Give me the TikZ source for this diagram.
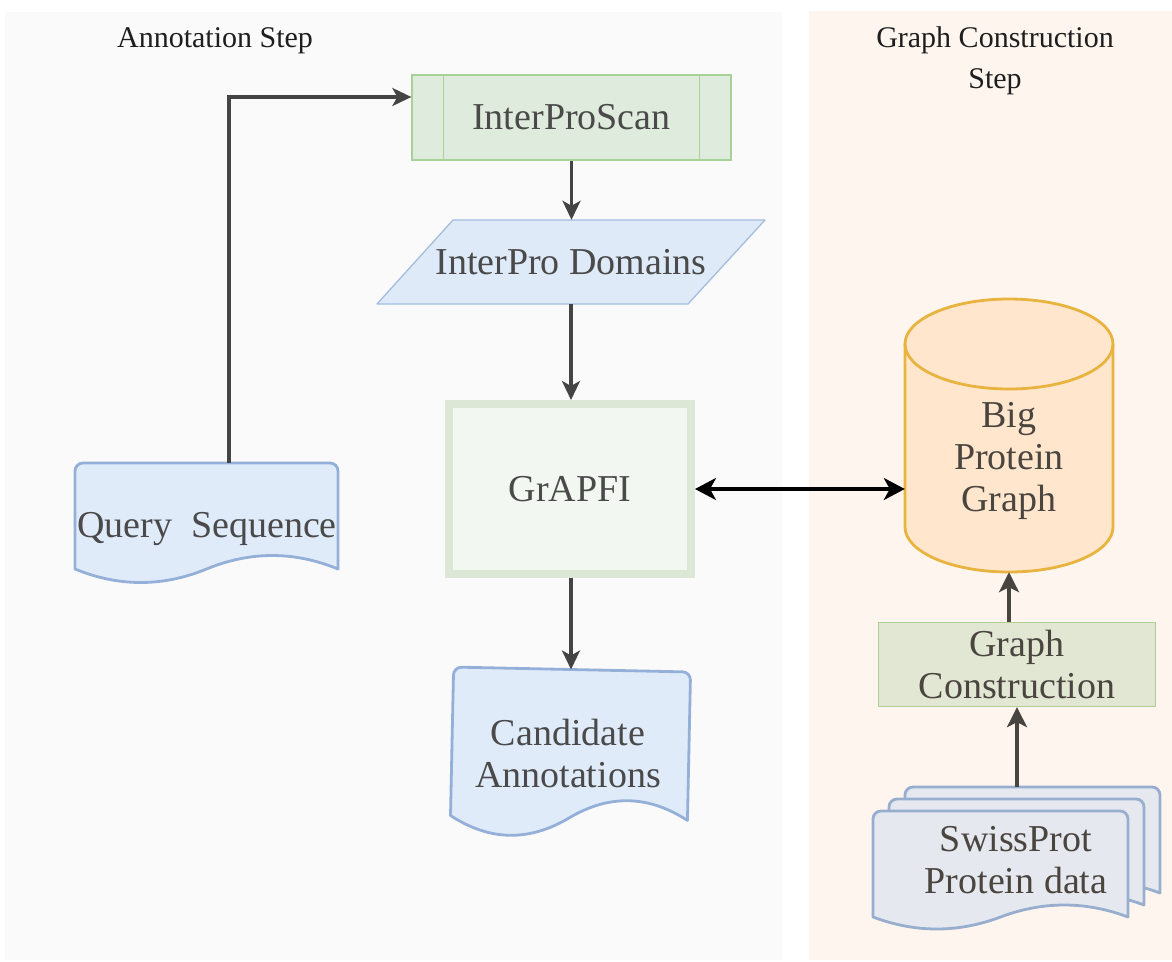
\documentclass[tikz,border=0pt]{standalone}
\usepackage{fontspec}
\setmainfont{Liberation Serif}
\usetikzlibrary{arrows.meta}
\definecolor{panelL}{HTML}{FAFAFA}
\definecolor{panelR}{HTML}{FFF5EF}
\definecolor{ipsfill}{HTML}{DFEBDC}
\definecolor{ipsdraw}{HTML}{A8D197}
\definecolor{domfill}{HTML}{DFEAF9}
\definecolor{domdraw}{HTML}{A3BCE0}
\definecolor{grfill}{HTML}{F2F7F1}
\definecolor{grdraw}{HTML}{DCE8D5}
\definecolor{docfill}{HTML}{E0EBFA}
\definecolor{docdraw}{HTML}{94B0D8}
\definecolor{cylfill}{HTML}{FFE6CD}
\definecolor{cyldraw}{HTML}{E8B43F}
\definecolor{gcfill}{HTML}{E1E7D3}
\definecolor{gcdraw}{HTML}{B0D093}
\definecolor{spfill}{HTML}{E6E8EF}
\definecolor{spdraw}{HTML}{98AECE}
\definecolor{txtL}{HTML}{4A4A4A}
\definecolor{txtR}{HTML}{4B4540}
\definecolor{ttlc}{HTML}{1E1E1E}
\definecolor{arrL}{HTML}{444444}
\definecolor{arrR}{HTML}{48443F}
% #1 style, #2 x0, #3 x1, #4 top, #5 bottom line y, #6 wave amplitude
\newcommand\docshape[6]{%
  \path[#1] (#2,#5) -- ({#2},{#4+8}) arc[start angle=180,end angle=270,radius=8]
    -- ({#3-8},#4) arc[start angle=270,end angle=360,radius=8] -- (#3,#5)
    .. controls ({#3-(#3-#2)/6},{#5-2*#6/3}) and ({(#2+#3)/2+(#3-#2)/6},{#5-2*#6/3}) .. ({(#2+#3)/2},#5)
    .. controls ({(#2+#3)/2-(#3-#2)/6},{#5+2*#6/3}) and ({#2+(#3-#2)/6},{#5+2*#6/3}) .. (#2,#5) -- cycle;}
\begin{document}
\begin{tikzpicture}[x=1pt,y=-1pt,
  lbl/.style={font=\fontsize{38}{42}\selectfont, align=center, inner sep=0pt},
  ttl/.style={font=\fontsize{30}{41}\selectfont, align=center, inner sep=0pt},
  ipsbox/.style={lbl, text=txtL, draw=ipsdraw, fill=ipsfill, line width=1.3pt, minimum width=319pt, minimum height=85pt},
  ipsline/.style={draw=ipsdraw, line width=1.3pt},
  dombox/.style={fill=domfill, draw=domdraw, line width=1.3pt, line join=round},
  grbox/.style={lbl, text=txtL, draw=grdraw, fill=grfill, line width=8pt, minimum width=242pt, minimum height=170pt},
  docbox/.style={fill=docfill, draw=docdraw, line width=2.8pt, line join=round},
  cylbox/.style={fill=cylfill, draw=cyldraw, line width=2.8pt},
  gcbox/.style={lbl, text=txtR, draw=gcdraw, fill=gcfill, line width=1.3pt, minimum width=277pt, minimum height=84pt},
  spbox/.style={fill=spfill, draw=spdraw, line width=2.8pt, line join=round},
  ghost/.style={inner sep=0pt, draw=none},
  arrowL/.style={draw=arrL, line width=3.3pt, -{Stealth[length=19pt,width=18pt,inset=5pt]}},
  arrowR/.style={draw=arrR, line width=3.3pt, -{Stealth[length=20pt,width=20pt,inset=5pt]}},
  dblarrow/.style={draw=black, line width=3.3pt, {Stealth[length=21pt,width=22pt,inset=6pt]}-{Stealth[length=21pt,width=22pt,inset=6pt]}}
]
\useasboundingbox (0,0) rectangle (1172,961);
\fill[white] (0,0) rectangle (1172,961);
% panels
\fill[panelL] (5,12) rectangle (782,960);
\fill[panelR] (809,11) rectangle (1172,960);
\node[ttl, text=ttlc, anchor=base] (t1) at (215,47) {Annotation Step};
\node[ttl, text=ttlc, anchor=base] (t2) at (995,88) {Graph Construction\\Step};

% InterProScan
\node[ipsbox] (ips) at (571.5,117.5) {InterProScan};
\draw[ipsline] ([xshift=32pt]ips.north west) -- ([xshift=32pt]ips.south west);
\draw[ipsline] ([xshift=-32pt]ips.north east) -- ([xshift=-32pt]ips.south east);

% InterPro Domains
\path[dombox] (453,220) -- (765,220) -- (688,304) -- (377,304) -- cycle;
\node[ghost, lbl, text=txtL, minimum width=388pt, minimum height=84pt] (dom) at (571,262) {InterPro Domains};

% GrAPFI
\node[grbox] (gr) at (570,489) {GrAPFI};

% Query Sequence
\docshape{docbox}{75}{338}{463}{569}{27}
\node[lbl, text=txtL] (qs) at (207,529) {Query~ Sequence};
\coordinate (qtop) at (229,463);

% Candidate Annotations
\begin{scope}[rotate around={-1.2:(570,745)}]
\docshape{docbox}{452}{689}{669.5}{818}{37}
\end{scope}
\node[lbl, text=txtL] (ca) at (568,753) {Candidate\\Annotations};
\coordinate (ctop) at (571,669.5);

% Big Protein Graph cylinder
\path[cylbox] (905,344) -- (905,527) arc[start angle=180,end angle=0,x radius=104,y radius=45]
  -- (1113,344) arc[start angle=0,end angle=-180,x radius=104,y radius=45] -- cycle;
\draw[cyldraw, line width=2.8pt] (905,344) arc[start angle=180,end angle=0,x radius=104,y radius=45];
\node[ghost, minimum width=208pt, minimum height=273pt] (bpg) at (1009,435.5) {};
\node[lbl, text=txtR] (bpgt) at (1009,461) {Big\\Protein\\Graph};

% Graph Construction
\node[gcbox] (gc) at (1017,664.5) {Graph\\Construction};

% SwissProt multi-document
\docshape{spbox}{905}{1160}{787}{893}{24}
\docshape{spbox}{889}{1144}{799}{905}{24}
\docshape{spbox}{873}{1128}{811}{917}{24}
\node[lbl, text=txtR] (sp) at (1016,860) {SwissProt\\Protein data};
\coordinate (sptop) at (1017,787);

% connectors
\draw[arrowL] (qtop) |- ([yshift=20.5pt]ips.west);
\draw[arrowL] (ips.south) -- (ips.south |- dom.north);
\draw[arrowL] (dom.south) -- (dom.south |- gr.north);
\draw[arrowL] (gr.south -| dom.south) -- (ctop);
\draw[dblarrow] (gr.east) -- (gr.east -| bpg.west);
\draw[arrowR] (gc.north -| bpg.south) -- (bpg.south);
\draw[arrowR] (sptop) -- (gc.south);
\end{tikzpicture}
\end{document}
